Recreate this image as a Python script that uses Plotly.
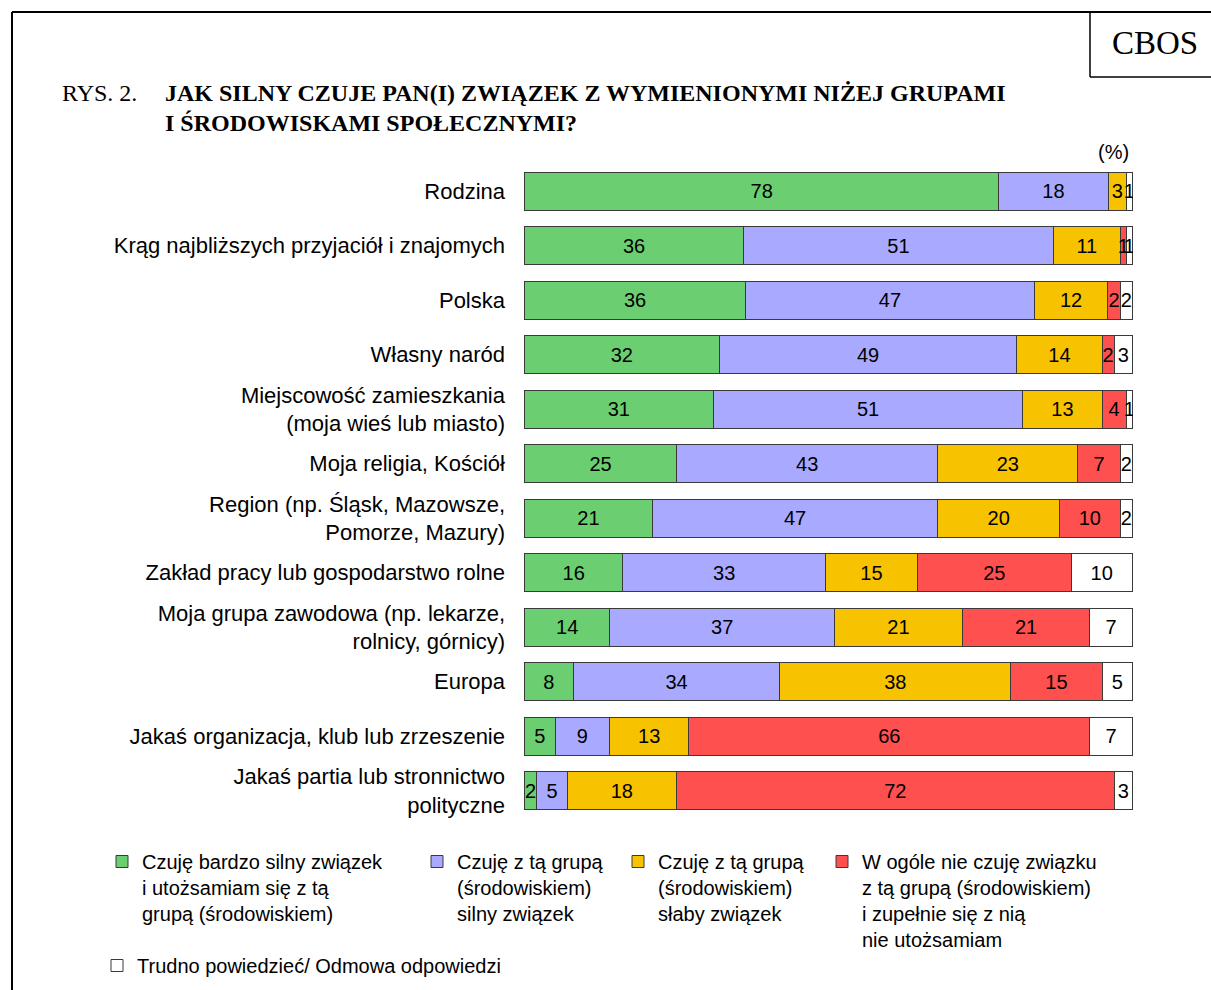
import plotly.graph_objects as go

categories = [
    "Rodzina",
    "Krąg najbliższych przyjaciół i znajomych",
    "Polska",
    "Własny naród",
    "Miejscowość zamieszkania<br>(moja wieś lub miasto)",
    "Moja religia, Kościół",
    "Region (np. Śląsk, Mazowsze,<br>Pomorze, Mazury)",
    "Zakład pracy lub gospodarstwo rolne",
    "Moja grupa zawodowa (np. lekarze,<br>rolnicy, górnicy)",
    "Europa",
    "Jakaś organizacja, klub lub zrzeszenie",
    "Jakaś partia lub stronnictwo<br>polityczne",
]

very_strong = [78, 36, 36, 32, 31, 25, 21, 16, 14, 8, 5, 2]
strong = [18, 51, 47, 49, 51, 43, 47, 33, 37, 34, 9, 5]
weak = [3, 11, 12, 14, 13, 23, 20, 15, 21, 38, 13, 18]
none_at_all = [0, 1, 2, 2, 4, 7, 10, 25, 21, 15, 66, 72]
hard_to_say = [1, 1, 2, 3, 1, 2, 2, 10, 7, 5, 7, 3]

series_names = [
    "Czuję bardzo silny związek<br>i utożsamiam się z tą<br>grupą (środowiskiem)",
    "Czuję z tą grupą<br>(środowiskiem)<br>silny związek",
    "Czuję z tą grupą<br>(środowiskiem)<br>słaby związek",
    "W ogóle nie czuję związku<br>z tą grupą (środowiskiem)<br>i zupełnie się z nią<br>nie utożsamiam",
    "Trudno powiedzieć/ Odmowa odpowiedzi",
]
series_values = [very_strong, strong, weak, none_at_all, hard_to_say]
colors = ["#6BCF71", "#A9A9FF", "#F7C200", "#FF5050", "#FFFFFF"]

W, H = 1211, 990
ML, MR, MT, MB = 524, 78, 164, 172
PW, PH = W - ML - MR, H - MT - MB
PAD = 0.1  # small x-range padding so outer bar outlines are not clipped


def px(x):
    return (x - ML) / PW


def py(y):
    return (H - MB - y) / PH


# legend placement (text start x, top y) in pixels
legend_pos = [(142, 842), (457, 842), (658, 842), (862, 842), (137, 946)]
legend_ids = ["legend", "legend2", "legend3", "legend4", "legend5"]

fig = go.Figure()
for name, vals, col, lg in zip(series_names, series_values, colors, legend_ids):
    fig.add_trace(go.Bar(
        y=categories, x=vals, name=name, orientation="h",
        marker=dict(color=col, line=dict(color="#3a3a3a", width=1)),
        text=[str(v) if v > 0 else "" for v in vals],
        textposition="inside", insidetextanchor="middle",
        constraintext="none", textangle=0,
        insidetextfont=dict(color="black", size=20, family="Liberation Sans, Arial"),
        legend=lg, hoverinfo="skip",
    ))

layout_legends = {}
for lg, (tx, ty) in zip(legend_ids, legend_pos):
    layout_legends[lg] = dict(
        orientation="v", x=px(tx - 40), y=py(ty), xanchor="left", yanchor="top",
        valign="top", font=dict(size=20), bgcolor="rgba(0,0,0,0)",
        itemclick=False, itemdoubleclick=False,
    )

fig.update_layout(
    width=W, height=H,
    margin=dict(l=ML, r=MR, t=MT, b=MB, autoexpand=False),
    barmode="stack", barnorm="percent", bargap=0.30,
    plot_bgcolor="white", paper_bgcolor="white",
    font=dict(family="Liberation Sans, Arial", size=20, color="black"),
    xaxis=dict(visible=False, range=[-PAD, 100 + PAD], fixedrange=True),
    yaxis=dict(type="category", autorange="reversed", showgrid=False,
               zeroline=False, showline=False, ticks="", fixedrange=True,
               ticklabelstandoff=18, tickfont=dict(size=22)),
    showlegend=True,
    **layout_legends,
)

# Frame lines and CBOS box
line = dict(color="black", width=2)
fig.add_shape(type="line", xref="paper", yref="paper", x0=px(12), x1=px(W), y0=py(12), y1=py(12), line=line)
fig.add_shape(type="line", xref="paper", yref="paper", x0=px(12), x1=px(12), y0=py(12), y1=py(H), line=line)
fig.add_shape(type="line", xref="paper", yref="paper", x0=px(1090), x1=px(1090), y0=py(12), y1=py(77), line=dict(color="black", width=1.5))
fig.add_shape(type="line", xref="paper", yref="paper", x0=px(1090), x1=px(W), y0=py(77), y1=py(77), line=dict(color="black", width=1.5))

serif = "Liberation Serif, Times New Roman"
fig.add_annotation(text="CBOS", xref="paper", yref="paper", x=px(1155), y=py(43),
                   xanchor="center", yanchor="middle", showarrow=False,
                   font=dict(family=serif, size=33))
fig.add_annotation(text="RYS. 2.", xref="paper", yref="paper", x=px(60), y=py(93),
                   xanchor="left", yanchor="middle", showarrow=False,
                   font=dict(family=serif, size=24))
fig.add_annotation(text="<b>JAK SILNY CZUJE PAN(I) ZWIĄZEK Z WYMIENIONYMI NIŻEJ GRUPAMI</b>",
                   xref="paper", yref="paper", x=px(163), y=py(93),
                   xanchor="left", yanchor="middle", showarrow=False,
                   font=dict(family=serif, size=24))
fig.add_annotation(text="<b>I ŚRODOWISKAMI SPOŁECZNYMI?</b>",
                   xref="paper", yref="paper", x=px(163), y=py(123),
                   xanchor="left", yanchor="middle", showarrow=False,
                   font=dict(family=serif, size=24))
fig.add_annotation(text="(%)", xref="paper", yref="paper", x=px(1131), y=py(152),
                   xanchor="right", yanchor="middle", showarrow=False,
                   font=dict(size=20))

fig.write_html("out.html",
               config={"displayModeBar": False, "staticPlot": True},
               post_script="document.body.style.margin='0';document.body.style.overflow='hidden';")
